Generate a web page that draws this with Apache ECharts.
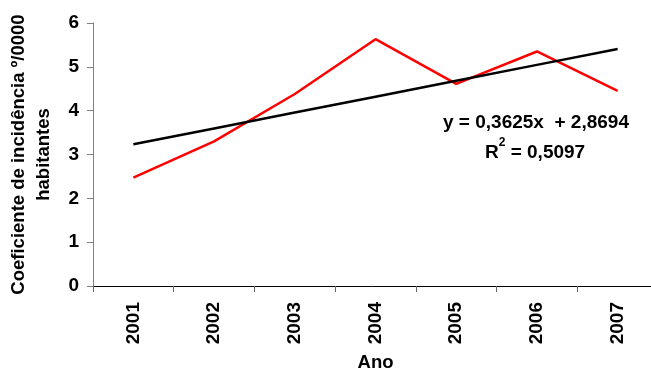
<!DOCTYPE html>
<html>
<head>
<meta charset="utf-8">
<script src="https://cdn.jsdelivr.net/npm/echarts@6/dist/echarts.min.js"></script>
<style>
  html, body { margin: 0; padding: 0; background: #fff; }
  #chart { width: 651px; height: 373px; }
</style>
</head>
<body>
<div id="chart"></div>
<script>
// Incidence coefficient per year, with its linear trend
const years = ['2001', '2002', '2003', '2004', '2005', '2006', '2007'];
const incidence = [2.47, 3.30, 4.38, 5.63, 4.61, 5.35, 4.45];
const yTicks = [0, 1, 2, 3, 4, 5, 6];

// Trend line coefficients (x = 1 .. n)
const trendSlope = 0.3625;
const trendIntercept = 2.8694;
const trendR2 = 0.5097;

const trend = years.map((_, i) => +(trendSlope * (i + 1) + trendIntercept).toFixed(4));

const fmt = v => v.toFixed(4).replace('.', ',');
const font = 'Liberation Sans, Arial, sans-serif';

const chart = echarts.init(document.getElementById('chart'), null, { renderer: 'canvas' });
chart.setOption({
  animation: false,
  backgroundColor: '#ffffff',
  textStyle: { fontFamily: font },
  grid: { left: 93, top: 23, width: 565, height: 263, containLabel: false, outerBoundsMode: 'none' },
  xAxis: {
    type: 'category',
    data: years,
    boundaryGap: true,
    name: 'Ano',
    nameLocation: 'middle',
    nameGap: 67,
    nameTextStyle: { fontFamily: font, fontWeight: 'bold', fontSize: 18.5, color: '#000' },
    axisLine: { lineStyle: { color: '#000', width: 1 } },
    axisTick: { show: true, length: 6, lineStyle: { color: '#666' } },
    axisLabel: {
      rotate: 90, margin: 16, interval: 0,
      fontFamily: font, fontWeight: 'bold', fontSize: 19, color: '#000'
    },
    splitLine: { show: false }
  },
  yAxis: {
    type: 'value',
    min: yTicks[0],
    max: yTicks[yTicks.length - 1],
    interval: 1,
    name: 'Coeficiente de incidência º/0000\nhabitantes',
    nameLocation: 'middle',
    nameRotate: 90,
    nameGap: 37,
    nameTextStyle: { fontFamily: font, fontWeight: 'bold', fontSize: 18.5, color: '#000', lineHeight: 25, align: 'center' },
    axisLine: { show: true, lineStyle: { color: '#808080', width: 1 } },
    axisTick: { show: true, length: 6, lineStyle: { color: '#808080' } },
    axisLabel: { margin: 14, fontFamily: font, fontWeight: 'bold', fontSize: 19, color: '#000' },
    splitLine: { show: false }
  },
  series: [
    {
      name: 'Incidência',
      type: 'line',
      data: incidence,
      symbol: 'none',
      lineStyle: { color: '#ff0000', width: 2.5 },
      z: 2
    },
    {
      name: 'Tendência',
      type: 'line',
      data: trend,
      symbol: 'none',
      lineStyle: { color: '#000000', width: 2.5 },
      z: 3
    }
  ],
  graphic: [
    {
      type: 'text',
      left: 443, top: 113,
      style: {
        text: 'y = ' + fmt(trendSlope) + 'x  + ' + fmt(trendIntercept),
        font: 'bold 19px ' + font,
        fill: '#000'
      }
    },
    {
      type: 'text',
      left: 485, top: 137,
      style: {
        text: '{b|R}{s|2}{b| = ' + fmt(trendR2) + '}',
        rich: {
          b: { font: 'bold 19px ' + font, fill: '#000', lineHeight: 25, verticalAlign: 'bottom' },
          s: { font: 'bold 12px ' + font, fill: '#000', lineHeight: 13, verticalAlign: 'top' }
        }
      }
    }
  ]
});
</script>
</body>
</html>
